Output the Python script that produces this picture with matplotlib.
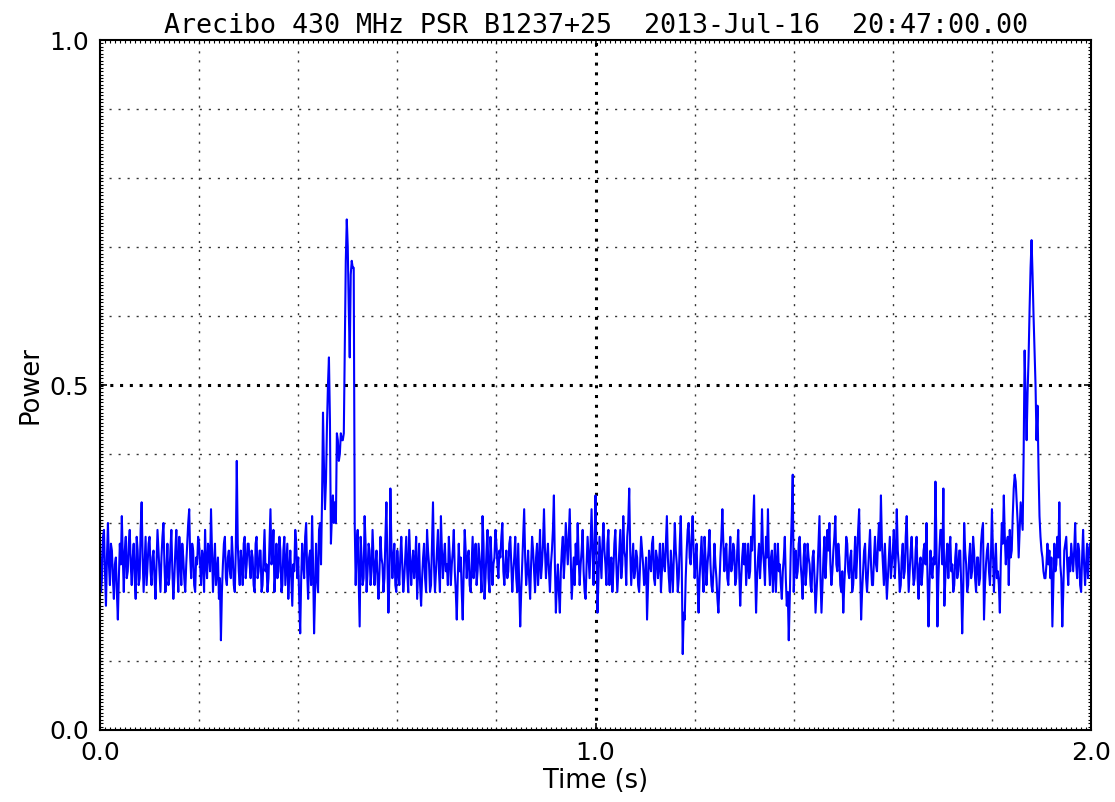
import numpy as np
import matplotlib
matplotlib.use("Agg")
import matplotlib.pyplot as plt
from matplotlib.ticker import MultipleLocator, FormatStrFormatter

# header of the pulse plot
title = "Arecibo 430 MHz PSR B1237+25  2013-Jul-16  20:47:00.00"

# sampling interval (s)
dt = 0.002

# power samples, 0.1 s per row
power = [
    0.27, 0.20, 0.22, 0.28, 0.29, 0.23, 0.18, 0.25, 0.30, 0.24, 0.21, 0.27, 0.26, 0.22, 0.19, 0.24, 0.25, 0.20, 0.16, 0.22, 0.27, 0.24, 0.31, 0.25, 0.20,
    0.26, 0.28, 0.22, 0.23, 0.27, 0.29, 0.24, 0.21, 0.25, 0.27, 0.22, 0.19, 0.28, 0.26, 0.21, 0.22, 0.29, 0.33, 0.25, 0.20, 0.24, 0.28, 0.21, 0.24, 0.27,
    0.28, 0.23, 0.21, 0.25, 0.26, 0.22, 0.19, 0.24, 0.29, 0.26, 0.23, 0.20, 0.25, 0.28, 0.30, 0.24, 0.20, 0.23, 0.27, 0.21, 0.22, 0.26, 0.29, 0.23, 0.19,
    0.22, 0.26, 0.29, 0.24, 0.20, 0.28, 0.25, 0.21, 0.27, 0.25, 0.22, 0.20, 0.24, 0.27, 0.30, 0.32, 0.25, 0.22, 0.27, 0.26, 0.21, 0.20, 0.25, 0.24, 0.28,
    0.27, 0.24, 0.21, 0.26, 0.25, 0.20, 0.29, 0.24, 0.22, 0.27, 0.26, 0.23, 0.32, 0.26, 0.20, 0.24, 0.27, 0.21, 0.23, 0.25, 0.19, 0.22, 0.13, 0.20, 0.24,
    0.27, 0.28, 0.22, 0.21, 0.25, 0.26, 0.23, 0.22, 0.28, 0.25, 0.21, 0.20, 0.26, 0.39, 0.27, 0.23, 0.21, 0.26, 0.24, 0.21, 0.27, 0.28, 0.22, 0.24, 0.27,
    0.27, 0.24, 0.22, 0.26, 0.25, 0.21, 0.20, 0.27, 0.28, 0.22, 0.23, 0.26, 0.26, 0.20, 0.21, 0.25, 0.29, 0.23, 0.24, 0.20, 0.22, 0.27, 0.32, 0.24, 0.25,
    0.29, 0.20, 0.23, 0.27, 0.22, 0.23, 0.28, 0.26, 0.20, 0.21, 0.26, 0.28, 0.21, 0.24, 0.27, 0.19, 0.23, 0.26, 0.22, 0.18, 0.24, 0.23, 0.29, 0.27, 0.22,
    0.25, 0.19, 0.14, 0.22, 0.27, 0.24, 0.22, 0.28, 0.30, 0.23, 0.19, 0.25, 0.26, 0.21, 0.31, 0.24, 0.14, 0.20, 0.27, 0.22, 0.20, 0.29, 0.30, 0.24, 0.33,
    0.46, 0.38, 0.32, 0.36, 0.44, 0.50, 0.54, 0.45, 0.27, 0.31, 0.34, 0.30, 0.33, 0.30, 0.43, 0.42, 0.39, 0.40, 0.43, 0.42, 0.42, 0.43, 0.55, 0.68, 0.74,
    0.70, 0.61, 0.54, 0.66, 0.68, 0.67, 0.67, 0.30, 0.21, 0.27, 0.29, 0.22, 0.15, 0.28, 0.25, 0.21, 0.22, 0.31, 0.27, 0.20, 0.23, 0.27, 0.26, 0.21, 0.23,
    0.29, 0.25, 0.21, 0.24, 0.26, 0.22, 0.19, 0.23, 0.28, 0.25, 0.24, 0.20, 0.22, 0.28, 0.33, 0.24, 0.17, 0.22, 0.35, 0.27, 0.22, 0.25, 0.27, 0.21, 0.20,
    0.26, 0.23, 0.21, 0.25, 0.28, 0.24, 0.20, 0.22, 0.25, 0.28, 0.23, 0.20, 0.29, 0.25, 0.21, 0.24, 0.26, 0.22, 0.24, 0.28, 0.19, 0.23, 0.27, 0.21, 0.18,
    0.22, 0.25, 0.27, 0.22, 0.20, 0.29, 0.26, 0.24, 0.20, 0.21, 0.27, 0.33, 0.24, 0.20, 0.23, 0.26, 0.29, 0.23, 0.20, 0.31, 0.26, 0.22, 0.25, 0.27, 0.23,
    0.24, 0.21, 0.28, 0.25, 0.21, 0.24, 0.26, 0.29, 0.23, 0.20, 0.16, 0.22, 0.27, 0.23, 0.25, 0.20, 0.16, 0.23, 0.29, 0.26, 0.22, 0.25, 0.26, 0.21, 0.20,
    0.24, 0.28, 0.22, 0.24, 0.27, 0.21, 0.23, 0.27, 0.25, 0.23, 0.20, 0.31, 0.27, 0.19, 0.22, 0.26, 0.29, 0.22, 0.20, 0.28, 0.25, 0.21, 0.24, 0.25, 0.29,
    0.27, 0.24, 0.22, 0.26, 0.25, 0.28, 0.30, 0.23, 0.21, 0.24, 0.26, 0.22, 0.23, 0.27, 0.28, 0.24, 0.20, 0.23, 0.25, 0.28, 0.22, 0.20, 0.27, 0.21, 0.15,
    0.20, 0.24, 0.28, 0.32, 0.25, 0.21, 0.23, 0.26, 0.22, 0.19, 0.24, 0.28, 0.26, 0.23, 0.20, 0.25, 0.27, 0.21, 0.24, 0.29, 0.22, 0.24, 0.27, 0.32, 0.26,
    0.22, 0.25, 0.27, 0.23, 0.20, 0.24, 0.26, 0.29, 0.34, 0.24, 0.17, 0.21, 0.24, 0.20, 0.17, 0.23, 0.26, 0.28, 0.22, 0.25, 0.30, 0.27, 0.24, 0.28, 0.32,
    0.25, 0.19, 0.22, 0.25, 0.21, 0.27, 0.24, 0.30, 0.25, 0.21, 0.24, 0.26, 0.29, 0.23, 0.20, 0.19, 0.24, 0.28, 0.25, 0.22, 0.27, 0.32, 0.26, 0.21, 0.27,
    0.34, 0.25, 0.17, 0.22, 0.28, 0.25, 0.22, 0.27, 0.30, 0.26, 0.24, 0.21, 0.27, 0.29, 0.21, 0.24, 0.25, 0.20, 0.23, 0.27, 0.29, 0.24, 0.20, 0.23, 0.26,
    0.29, 0.22, 0.24, 0.31, 0.26, 0.25, 0.21, 0.28, 0.30, 0.35, 0.26, 0.21, 0.24, 0.27, 0.22, 0.23, 0.26, 0.25, 0.21, 0.20, 0.24, 0.28, 0.26, 0.24, 0.21,
    0.22, 0.25, 0.16, 0.21, 0.26, 0.24, 0.23, 0.27, 0.28, 0.22, 0.21, 0.26, 0.25, 0.22, 0.24, 0.27, 0.20, 0.23, 0.27, 0.24, 0.23, 0.27, 0.31, 0.25, 0.22,
    0.20, 0.26, 0.23, 0.20, 0.25, 0.30, 0.26, 0.24, 0.20, 0.22, 0.27, 0.31, 0.24, 0.11, 0.17, 0.16, 0.22, 0.26, 0.29, 0.30, 0.25, 0.24, 0.28, 0.31, 0.26,
    0.22, 0.25, 0.27, 0.21, 0.17, 0.22, 0.25, 0.28, 0.23, 0.20, 0.28, 0.25, 0.21, 0.24, 0.26, 0.29, 0.24, 0.21, 0.20, 0.23, 0.27, 0.24, 0.22, 0.19, 0.17,
    0.21, 0.25, 0.28, 0.32, 0.27, 0.23, 0.26, 0.27, 0.22, 0.21, 0.25, 0.28, 0.23, 0.24, 0.27, 0.26, 0.21, 0.22, 0.26, 0.29, 0.23, 0.18, 0.22, 0.25, 0.27,
    0.24, 0.27, 0.21, 0.24, 0.27, 0.22, 0.23, 0.28, 0.26, 0.30, 0.34, 0.24, 0.17, 0.22, 0.25, 0.27, 0.22, 0.25, 0.32, 0.26, 0.24, 0.21, 0.28, 0.25, 0.32,
    0.24, 0.21, 0.25, 0.26, 0.20, 0.23, 0.27, 0.20, 0.24, 0.27, 0.23, 0.24, 0.21, 0.19, 0.23, 0.25, 0.28, 0.22, 0.18, 0.20, 0.13, 0.19, 0.26, 0.31, 0.37,
    0.20, 0.24, 0.26, 0.22, 0.23, 0.27, 0.28, 0.24, 0.22, 0.19, 0.25, 0.27, 0.21, 0.23, 0.27, 0.25, 0.24, 0.21, 0.20, 0.25, 0.26, 0.22, 0.17, 0.20, 0.23,
    0.27, 0.31, 0.22, 0.17, 0.21, 0.25, 0.28, 0.22, 0.25, 0.29, 0.26, 0.30, 0.24, 0.21, 0.23, 0.26, 0.28, 0.31, 0.24, 0.23, 0.27, 0.25, 0.21, 0.20, 0.23,
    0.17, 0.21, 0.24, 0.28, 0.27, 0.23, 0.22, 0.25, 0.26, 0.20, 0.21, 0.24, 0.28, 0.22, 0.25, 0.29, 0.32, 0.24, 0.16, 0.20, 0.23, 0.26, 0.27, 0.22, 0.20,
    0.23, 0.26, 0.29, 0.24, 0.21, 0.21, 0.25, 0.28, 0.24, 0.23, 0.27, 0.30, 0.26, 0.34, 0.27, 0.24, 0.21, 0.27, 0.23, 0.19, 0.22, 0.25, 0.28, 0.22, 0.24,
    0.26, 0.29, 0.22, 0.25, 0.32, 0.26, 0.24, 0.20, 0.21, 0.25, 0.27, 0.22, 0.23, 0.28, 0.31, 0.25, 0.20, 0.23, 0.26, 0.28, 0.24, 0.21, 0.22, 0.26, 0.28,
    0.22, 0.19, 0.24, 0.25, 0.21, 0.23, 0.26, 0.27, 0.24, 0.30, 0.22, 0.15, 0.21, 0.26, 0.23, 0.22, 0.25, 0.24, 0.36, 0.27, 0.15, 0.22, 0.26, 0.29, 0.29,
    0.24, 0.35, 0.18, 0.22, 0.25, 0.27, 0.22, 0.26, 0.28, 0.23, 0.24, 0.20, 0.21, 0.25, 0.27, 0.22, 0.23, 0.26, 0.26, 0.21, 0.14, 0.20, 0.30, 0.26, 0.24,
    0.20, 0.21, 0.25, 0.27, 0.22, 0.23, 0.28, 0.26, 0.22, 0.20, 0.25, 0.25, 0.21, 0.22, 0.27, 0.29, 0.30, 0.16, 0.21, 0.24, 0.26, 0.27, 0.23, 0.21, 0.25,
    0.32, 0.26, 0.20, 0.24, 0.27, 0.22, 0.23, 0.21, 0.17, 0.25, 0.30, 0.27, 0.34, 0.28, 0.24, 0.27, 0.28, 0.21, 0.29, 0.25, 0.26, 0.31, 0.35, 0.37, 0.36,
    0.33, 0.30, 0.25, 0.29, 0.33, 0.31, 0.29, 0.40, 0.55, 0.48, 0.42, 0.49, 0.54, 0.61, 0.67, 0.71, 0.66, 0.60, 0.55, 0.50, 0.42, 0.47, 0.38, 0.31, 0.28,
    0.26, 0.25, 0.23, 0.22, 0.22, 0.24, 0.27, 0.24, 0.26, 0.22, 0.25, 0.15, 0.21, 0.27, 0.23, 0.24, 0.28, 0.25, 0.33, 0.24, 0.22, 0.15, 0.20, 0.26, 0.27,
    0.28, 0.24, 0.21, 0.25, 0.23, 0.27, 0.25, 0.23, 0.26, 0.30, 0.24, 0.22, 0.27, 0.26, 0.21, 0.20, 0.25, 0.29, 0.24, 0.21, 0.24, 0.27, 0.22, 0.26, 0.27,
]

time_s = np.arange(len(power)) * dt

fig = plt.figure(figsize=(11.15, 8.02), dpi=100)
ax = fig.add_axes([0.0897, 0.0898, 0.8888, 0.8603])

ax.plot(time_s, power, color="b", lw=1.5)

ax.set_xlim(0, 2)
ax.set_ylim(0, 1)
ax.xaxis.set_major_locator(MultipleLocator(1.0))
ax.yaxis.set_major_locator(MultipleLocator(0.5))
ax.xaxis.set_minor_locator(MultipleLocator(0.01))
ax.yaxis.set_minor_locator(MultipleLocator(0.005))
ax.xaxis.set_major_formatter(FormatStrFormatter("%.1f"))
ax.yaxis.set_major_formatter(FormatStrFormatter("%.1f"))

ax.tick_params(which="both", direction="in", top=True, right=True, colors="black")
ax.tick_params(which="major", length=5, width=1.2, labelsize=18, pad=8)
ax.tick_params(which="minor", length=2.5, width=0.8)

# fine dotted grid
for gx in [0.2, 0.4, 0.6, 0.8, 1.2, 1.4, 1.6, 1.8]:
    ax.axvline(gx, color="#333333", ls=(0, (1.5, 5)), lw=1.0, zorder=0)
for gy in [0.1, 0.2, 0.3, 0.4, 0.6, 0.7, 0.8, 0.9]:
    ax.axhline(gy, color="#333333", ls=(0, (1.5, 5)), lw=1.0, zorder=0)
# heavy dotted grid on major ticks
ax.axvline(1.0, color="k", ls=(0, (1, 2.2)), lw=2.2, zorder=0)
ax.axhline(0.5, color="k", ls=(0, (1, 2.2)), lw=2.2, zorder=0)

for s in ax.spines.values():
    s.set_linewidth(1.5)

ax.set_xlabel("Time (s)", fontsize=18.5, labelpad=2)
ax.set_ylabel("Power", fontsize=18.5, labelpad=4)
ax.set_title(title, fontsize=19.2, family="DejaVu Sans Mono", pad=5)

plt.savefig("out.png", dpi=100)
